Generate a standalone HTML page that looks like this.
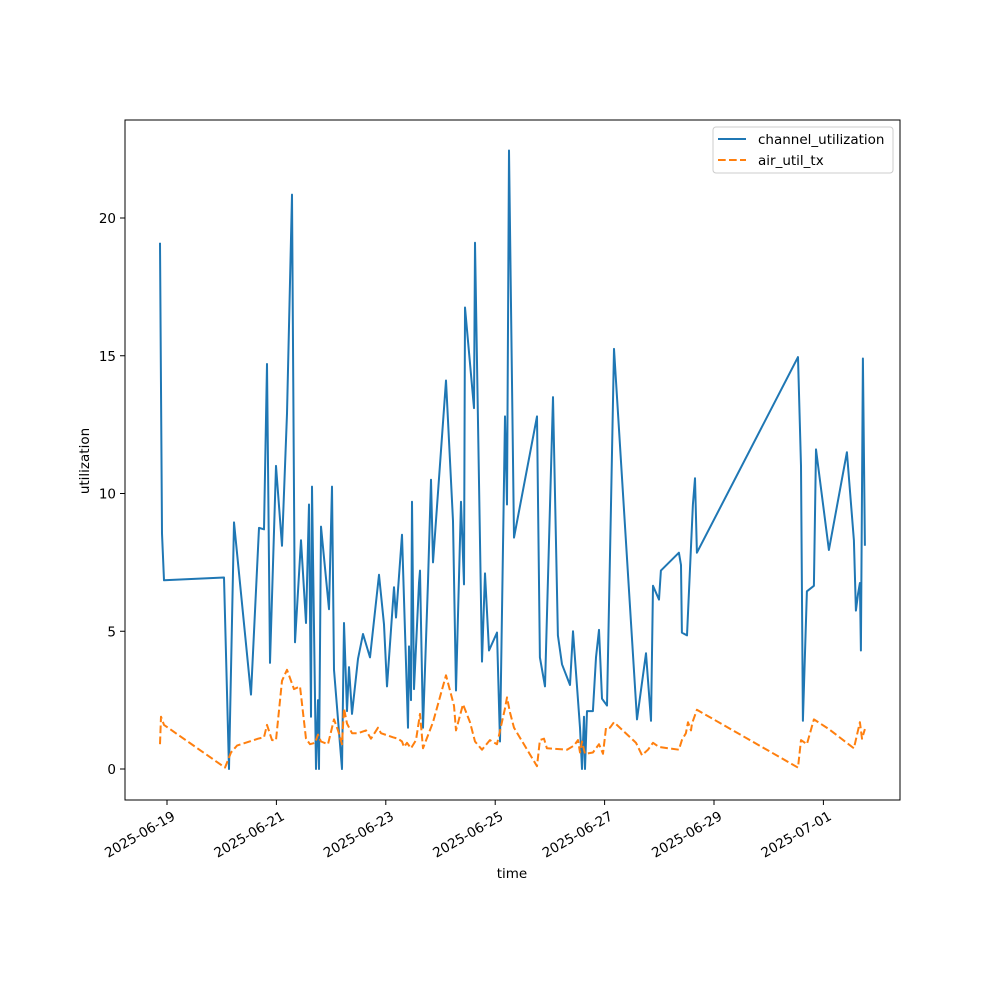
<!DOCTYPE html>
<html><head><meta charset="utf-8"><style>
html,body{margin:0;padding:0;background:#fff;}
svg{display:block;font-family:"DejaVu Sans","Liberation Sans",sans-serif;}
</style></head><body>
<svg id="chart" width="1000" height="1000" viewBox="0 0 1000 1000"></svg>
<script>
const tickDays=[0,2,4,6,8,10,12];
const tickLabels=["2025-06-19","2025-06-21","2025-06-23","2025-06-25","2025-06-27","2025-06-29","2025-07-01"];
const yTicks=[0,5,10,15,20];
const chanDays=[-0.128,-0.091,-0.055,1.042,1.133,1.225,1.536,1.682,1.773,1.828,1.883,1.993,2.102,2.194,2.285,2.340,2.450,2.541,2.596,2.632,2.651,2.724,2.760,2.779,2.815,2.961,3.016,3.053,3.199,3.236,3.290,3.327,3.382,3.491,3.583,3.711,3.875,3.967,4.022,4.150,4.186,4.296,4.405,4.424,4.460,4.479,4.515,4.607,4.625,4.680,4.771,4.826,4.863,5.100,5.228,5.283,5.374,5.429,5.447,5.612,5.630,5.758,5.813,5.886,6.033,6.087,6.179,6.215,6.252,6.343,6.764,6.818,6.910,7.056,7.147,7.221,7.367,7.422,7.550,7.586,7.623,7.641,7.678,7.787,7.842,7.897,7.952,8.043,8.116,8.171,8.592,8.756,8.848,8.884,8.994,9.030,9.359,9.396,9.414,9.506,9.615,9.652,9.688,11.535,11.590,11.626,11.699,11.827,11.864,12.101,12.430,12.558,12.595,12.632,12.668,12.686,12.723,12.759];
const chanVals=[19.1,8.55,6.85,6.95,0,8.95,2.7,8.75,8.7,14.7,3.85,11.0,8.1,12.9,20.85,4.6,8.3,5.3,9.6,1.9,10.25,0,2.5,0,8.8,5.8,10.25,3.6,0,5.3,2.1,3.7,2.0,4.0,4.9,4.05,7.05,5.25,3.0,6.6,5.5,8.5,1.5,4.45,2.5,9.7,2.9,6.75,7.2,1.5,6.8,10.5,7.5,14.1,9.0,2.85,9.7,6.7,16.75,13.1,19.1,3.9,7.1,4.3,4.95,1.0,12.8,9.6,22.45,8.4,12.8,4.05,3.0,13.5,4.85,3.8,3.05,5.0,1.5,0,1.9,0,2.1,2.1,4.05,5.05,2.55,2.3,9.4,15.25,1.8,4.2,1.75,6.65,6.15,7.2,7.85,7.4,4.95,4.85,9.6,10.55,7.85,14.95,11.0,1.75,6.45,6.65,11.6,7.95,11.5,8.3,5.75,6.35,6.75,4.3,14.9,8.1];
const airDays=[-0.128,-0.110,-0.055,1.060,1.170,1.280,1.663,1.773,1.828,1.919,1.993,2.102,2.194,2.322,2.431,2.541,2.614,2.705,2.760,2.815,2.943,3.053,3.126,3.199,3.236,3.290,3.382,3.491,3.638,3.729,3.857,3.912,4.131,4.223,4.296,4.332,4.387,4.460,4.552,4.625,4.680,4.863,5.100,5.246,5.283,5.411,5.539,5.630,5.758,5.904,6.033,6.179,6.215,6.270,6.343,6.764,6.818,6.892,6.946,7.312,7.440,7.513,7.550,7.586,7.641,7.787,7.897,7.970,8.025,8.098,8.171,8.574,8.683,8.793,8.884,8.994,9.359,9.414,9.487,9.524,9.579,9.597,9.688,11.535,11.590,11.699,11.827,12.101,12.558,12.668,12.705,12.759];
const airVals=[0.9,1.9,1.6,0.05,0.6,0.85,1.1,1.15,1.6,1.05,1.05,3.2,3.6,2.9,3.0,1.1,0.9,0.95,1.25,1.0,0.9,1.8,1.4,0.9,2.2,1.65,1.3,1.3,1.4,1.1,1.5,1.3,1.15,1.1,1.0,0.8,0.95,0.75,1.05,2.0,0.75,1.7,3.4,2.3,1.4,2.35,1.7,1.0,0.7,1.05,0.9,2.2,2.6,2.05,1.5,0.1,1.05,1.1,0.75,0.7,0.85,1.05,0.6,1.0,0.55,0.6,0.9,0.55,1.5,1.5,1.7,0.95,0.5,0.7,0.95,0.8,0.7,1.05,1.3,1.7,1.4,1.65,2.15,0.05,1.05,0.9,1.8,1.45,0.75,1.7,1.1,1.45];

const L=125,R=900,T=120,B=800;
const x=d=>167+d*54.7;
const y=v=>769-v*27.55;
const NS="http://www.w3.org/2000/svg";
const svg=document.getElementById('chart');
function mk(tag,attrs,parent){const e=document.createElementNS(NS,tag);for(const k in attrs)e.setAttribute(k,attrs[k]);(parent||svg).appendChild(e);return e;}

function series(days,vals,color,dash,name){
  let d='';days.forEach((t,i)=>{d+=(i?'L':'M')+x(t).toFixed(1)+','+y(vals[i]).toFixed(1);});
  const p=mk('path',{d:d,fill:'none',stroke:color,'stroke-width':2,'stroke-linejoin':'round','stroke-dasharray':dash});
  
  
}
series(chanDays,chanVals,'#1f77b4','none','channel-utilization-line');
series(airDays,airVals,'#ff7f0e','7.7,3.3','air-util-tx-line');

const frame=mk('rect',{x:L,y:T,width:R-L,height:B-T,fill:'none',stroke:'#000','stroke-width':1});



tickDays.forEach((t,i)=>{
  const px=x(t);
  const tk=mk('line',{x1:px,x2:px,y1:B,y2:B+5,stroke:'#000'});
  
  
  const tx=mk('text',{x:px+4,y:B+10,'font-size':13.5,'text-anchor':'end',transform:`rotate(-30 ${px+4} ${B+10})`,dy:'0.75em'});
  tx.textContent=tickLabels[i];
  
  
});
yTicks.forEach(v=>{
  const py=y(v);
  const tk=mk('line',{x1:L-5,x2:L,y1:py,y2:py,stroke:'#000'});
  
  
  const tx=mk('text',{x:L-9,y:py+5,'font-size':13.5,'text-anchor':'end'});
  tx.textContent=String(v);
  
  
});
const xt=mk('text',{x:512,y:878,'font-size':13.5,'text-anchor':'middle'});
xt.textContent='time';


const yt=mk('text',{x:89,y:461,'font-size':13.5,'text-anchor':'middle',transform:'rotate(-90 89 461)'});
yt.textContent='utilization';



const lg=mk('g',{});


mk('rect',{x:713,y:127,width:180,height:46,rx:3,fill:'#fff',stroke:'#ccc','fill-opacity':0.8},lg);
const e1=mk('g',{},lg);


mk('line',{x1:718,x2:746,y1:139,y2:139,stroke:'#1f77b4','stroke-width':2},e1);
const t1=mk('text',{x:758,y:144,'font-size':13.5},e1);t1.textContent='channel_utilization';
const e2=mk('g',{},lg);


mk('line',{x1:718,x2:746,y1:160,y2:160,stroke:'#ff7f0e','stroke-width':2,'stroke-dasharray':'7.7,3.3'},e2);
const t2=mk('text',{x:758,y:165,'font-size':13.5},e2);t2.textContent='air_util_tx';
</script>
</body></html>
